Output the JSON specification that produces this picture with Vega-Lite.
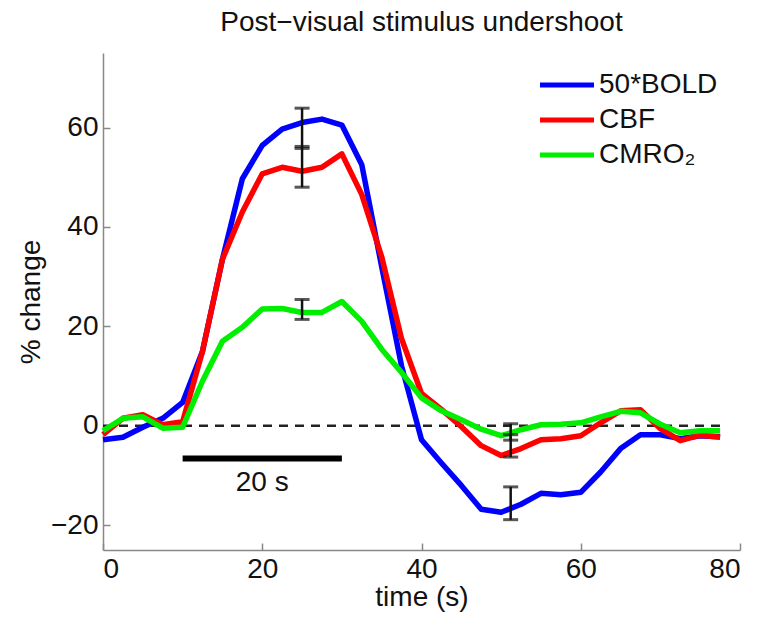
{
  "$schema": "https://vega.github.io/schema/vega-lite/v6.json",
  "autosize": "none",
  "width": 637,
  "height": 497,
  "padding": {"left": 103, "top": 53, "right": 19, "bottom": 72},
  "background": "white",
  "title": {"text": "Post−visual stimulus undershoot", "font": "Liberation Sans", "fontSize": 28, "fontWeight": "normal", "color": "#111", "offset": 16},
  "config": {
    "view": {"stroke": null},
    "axis": {"labelFont": "Liberation Sans", "titleFont": "Liberation Sans", "labelFontSize": 28, "titleFontSize": 28, "titleFontWeight": "normal", "labelColor": "#111", "titleColor": "#111", "domainColor": "#888", "tickColor": "#888", "domainWidth": 1.5, "tickWidth": 1.5, "grid": false, "tickSize": -7},
    "legend": {"labelFont": "Liberation Sans", "labelFontSize": 28, "labelColor": "#111"}
  },
  "datasets": {
    "series": [
      {"t": 0, "s": "50*BOLD", "v": -2.8}, {"t": 2.5, "s": "50*BOLD", "v": -2.3}, {"t": 5, "s": "50*BOLD", "v": -0.3}, {"t": 7.5, "s": "50*BOLD", "v": 1.5},
      {"t": 10, "s": "50*BOLD", "v": 4.7}, {"t": 12.5, "s": "50*BOLD", "v": 15}, {"t": 15, "s": "50*BOLD", "v": 33.5}, {"t": 17.5, "s": "50*BOLD", "v": 49.7},
      {"t": 20, "s": "50*BOLD", "v": 56.4}, {"t": 22.5, "s": "50*BOLD", "v": 59.7}, {"t": 25, "s": "50*BOLD", "v": 61}, {"t": 27.5, "s": "50*BOLD", "v": 61.7},
      {"t": 30, "s": "50*BOLD", "v": 60.5}, {"t": 32.5, "s": "50*BOLD", "v": 52.5}, {"t": 35, "s": "50*BOLD", "v": 32}, {"t": 37.5, "s": "50*BOLD", "v": 12},
      {"t": 40, "s": "50*BOLD", "v": -2.8}, {"t": 42.5, "s": "50*BOLD", "v": -7.5}, {"t": 45, "s": "50*BOLD", "v": -12}, {"t": 47.5, "s": "50*BOLD", "v": -16.8},
      {"t": 50, "s": "50*BOLD", "v": -17.4}, {"t": 52.5, "s": "50*BOLD", "v": -15.8}, {"t": 55, "s": "50*BOLD", "v": -13.6}, {"t": 57.5, "s": "50*BOLD", "v": -13.9},
      {"t": 60, "s": "50*BOLD", "v": -13.4}, {"t": 62.5, "s": "50*BOLD", "v": -9.3}, {"t": 65, "s": "50*BOLD", "v": -4.6}, {"t": 67.5, "s": "50*BOLD", "v": -1.8},
      {"t": 70, "s": "50*BOLD", "v": -1.8}, {"t": 72.5, "s": "50*BOLD", "v": -2.6}, {"t": 75, "s": "50*BOLD", "v": -2}, {"t": 77.5, "s": "50*BOLD", "v": -2.2},
      {"t": 0, "s": "CBF", "v": -1.8}, {"t": 2.5, "s": "CBF", "v": 1.5}, {"t": 5, "s": "CBF", "v": 2.2}, {"t": 7.5, "s": "CBF", "v": 0.2},
      {"t": 10, "s": "CBF", "v": 0.8}, {"t": 12.5, "s": "CBF", "v": 15}, {"t": 15, "s": "CBF", "v": 33.5}, {"t": 17.5, "s": "CBF", "v": 43},
      {"t": 20, "s": "CBF", "v": 50.7}, {"t": 22.5, "s": "CBF", "v": 52}, {"t": 25, "s": "CBF", "v": 51.2}, {"t": 27.5, "s": "CBF", "v": 52},
      {"t": 30, "s": "CBF", "v": 54.7}, {"t": 32.5, "s": "CBF", "v": 46.5}, {"t": 35, "s": "CBF", "v": 34}, {"t": 37.5, "s": "CBF", "v": 17.5},
      {"t": 40, "s": "CBF", "v": 6.5}, {"t": 42.5, "s": "CBF", "v": 3.3}, {"t": 45, "s": "CBF", "v": -0.2}, {"t": 47.5, "s": "CBF", "v": -4},
      {"t": 50, "s": "CBF", "v": -6}, {"t": 52.5, "s": "CBF", "v": -4.6}, {"t": 55, "s": "CBF", "v": -2.8}, {"t": 57.5, "s": "CBF", "v": -2.6},
      {"t": 60, "s": "CBF", "v": -2}, {"t": 62.5, "s": "CBF", "v": 0.6}, {"t": 65, "s": "CBF", "v": 3}, {"t": 67.5, "s": "CBF", "v": 3.2},
      {"t": 70, "s": "CBF", "v": -0.6}, {"t": 72.5, "s": "CBF", "v": -3}, {"t": 75, "s": "CBF", "v": -1.9}, {"t": 77.5, "s": "CBF", "v": -2.3},
      {"t": 0, "s": "CMRO₂", "v": -1}, {"t": 2.5, "s": "CMRO₂", "v": 1.5}, {"t": 5, "s": "CMRO₂", "v": 1.8}, {"t": 7.5, "s": "CMRO₂", "v": -0.5},
      {"t": 10, "s": "CMRO₂", "v": -0.3}, {"t": 12.5, "s": "CMRO₂", "v": 9}, {"t": 15, "s": "CMRO₂", "v": 17}, {"t": 17.5, "s": "CMRO₂", "v": 19.8},
      {"t": 20, "s": "CMRO₂", "v": 23.5}, {"t": 22.5, "s": "CMRO₂", "v": 23.6}, {"t": 25, "s": "CMRO₂", "v": 22.8}, {"t": 27.5, "s": "CMRO₂", "v": 22.8},
      {"t": 30, "s": "CMRO₂", "v": 25}, {"t": 32.5, "s": "CMRO₂", "v": 21}, {"t": 35, "s": "CMRO₂", "v": 15.4}, {"t": 37.5, "s": "CMRO₂", "v": 10.7},
      {"t": 40, "s": "CMRO₂", "v": 5.6}, {"t": 42.5, "s": "CMRO₂", "v": 3}, {"t": 45, "s": "CMRO₂", "v": 1.2}, {"t": 47.5, "s": "CMRO₂", "v": -0.7},
      {"t": 50, "s": "CMRO₂", "v": -2}, {"t": 52.5, "s": "CMRO₂", "v": -0.8}, {"t": 55, "s": "CMRO₂", "v": 0.2}, {"t": 57.5, "s": "CMRO₂", "v": 0.3},
      {"t": 60, "s": "CMRO₂", "v": 0.6}, {"t": 62.5, "s": "CMRO₂", "v": 1.8}, {"t": 65, "s": "CMRO₂", "v": 2.9}, {"t": 67.5, "s": "CMRO₂", "v": 2.6},
      {"t": 70, "s": "CMRO₂", "v": 0.3}, {"t": 72.5, "s": "CMRO₂", "v": -1.4}, {"t": 75, "s": "CMRO₂", "v": -1}, {"t": 77.5, "s": "CMRO₂", "v": -1}
    ],
    "errors": [
      {"t": 25, "lo": 55.8, "hi": 63.9}, {"t": 25, "lo": 48, "hi": 56.2}, {"t": 25, "lo": 21.4, "hi": 25.4},
      {"t": 51.2, "lo": -18.9, "hi": -12.3}, {"t": 51.2, "lo": -6.3, "hi": 0.4}, {"t": 51.2, "lo": -2.9, "hi": -1.8}
    ],
    "zero": [{"t": 0, "v": 0}, {"t": 77.5, "v": 0}],
    "bar": [{"t": 10, "t2": 30, "v": -6.6, "label": "20 s", "tm": 20, "vl": -11.5}]
  },
  "layer": [
    {
      "data": {"name": "zero"},
      "mark": {"type": "line", "color": "#222", "strokeWidth": 2.5, "strokeDash": [9, 7]},
      "encoding": {
        "x": {"field": "t", "type": "quantitative", "title": "time (s)", "scale": {"domain": [0, 80], "nice": false}, "axis": {"values": [0, 20, 40, 60, 80], "labelPadding": 12, "titlePadding": 0}},
        "y": {"field": "v", "type": "quantitative", "title": "% change", "scale": {"domain": [-25, 75], "nice": false}, "axis": {"values": [-20, 0, 20, 40, 60], "labelPadding": 12, "titlePadding": 5}}
      }
    },
    {
      "data": {"name": "series"},
      "mark": {"type": "line", "strokeWidth": 5.5, "strokeJoin": "round"},
      "encoding": {
        "x": {"field": "t", "type": "quantitative", "title": "time (s)"},
        "y": {"field": "v", "type": "quantitative", "title": "% change"},
        "color": {"field": "s", "type": "nominal", "scale": {"domain": ["50*BOLD", "CBF", "CMRO₂"], "range": ["#0000ff", "#ff0000", "#00ee00"]},
          "legend": {"title": null, "orient": "none", "legendX": 450, "legendY": 18, "symbolType": "M-3,0H3", "symbolSize": 324, "symbolStrokeWidth": 5, "labelOffset": 18, "rowPadding": 7, "padding": 0}},
        "order": {"field": "t", "type": "quantitative"}
      }
    },
    {
      "data": {"name": "bar"},
      "mark": {"type": "rule", "color": "black", "strokeWidth": 6},
      "encoding": {"x": {"field": "t", "type": "quantitative", "title": "time (s)"}, "x2": {"field": "t2"}, "y": {"field": "v", "type": "quantitative", "title": "% change"}}
    },
    {
      "data": {"name": "bar"},
      "mark": {"type": "text", "font": "Liberation Sans", "fontSize": 28, "color": "#111", "baseline": "middle"},
      "encoding": {"x": {"field": "tm", "type": "quantitative", "title": "time (s)"}, "y": {"field": "vl", "type": "quantitative", "title": "% change"}, "text": {"field": "label"}}
    },
    {
      "data": {"name": "errors"},
      "mark": {"type": "errorbar", "color": "#111", "thickness": 2.5, "ticks": {"size": 15, "thickness": 3, "color": "#111"}},
      "encoding": {"x": {"field": "t", "type": "quantitative", "title": "time (s)"}, "y": {"field": "lo", "type": "quantitative", "title": "% change"}, "y2": {"field": "hi"}}
    }
  ]
}
